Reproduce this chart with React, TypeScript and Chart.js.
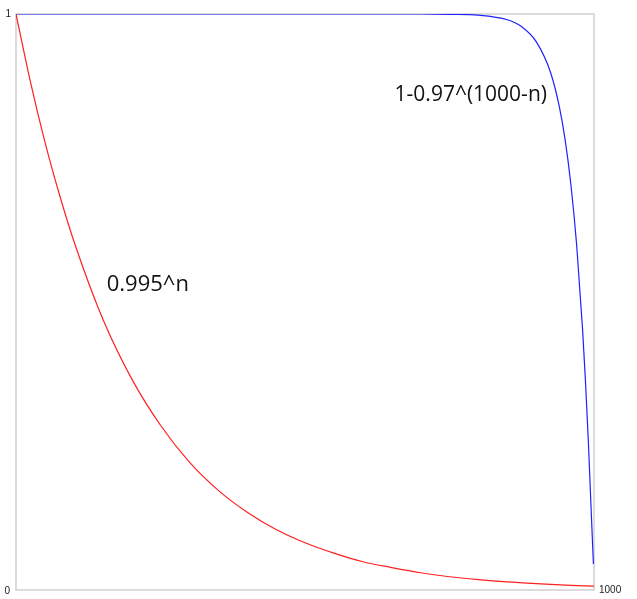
import React, { useEffect, useRef } from "react";
import { Chart, registerables } from "chart.js";

Chart.register(...registerables);

const redN = [0, 25, 50, 75, 100, 150, 200, 250, 300, 350, 400, 450, 500, 550, 600, 650, 700, 750, 800, 850, 900, 950, 1000];
const redValues = [1, 0.882, 0.778, 0.687, 0.606, 0.471, 0.367, 0.286, 0.222, 0.173, 0.135, 0.105, 0.082, 0.064, 0.049, 0.039, 0.030, 0.023, 0.018, 0.014, 0.011, 0.0085, 0.0067];

const blueN = [0, 200, 400, 600, 700, 750, 800, 850, 875, 900, 925, 940, 950, 960, 970, 980, 985, 990, 995, 999];
const blueValues = [1, 1, 1, 1, 1, 0.9995, 0.998, 0.99, 0.978, 0.952, 0.898, 0.839, 0.782, 0.704, 0.599, 0.456, 0.367, 0.263, 0.141, 0.045];

const xTickLabels = ["1000"];
const yTickLabels = ["0", "1"];

const annotations = [
  { text: "0.995^n", n: 157, v: 0.53, size: 22 },
  { text: "1-0.97^(1000-n)", n: 655, v: 0.86, size: 21 },
];

export default function App() {
  const ref = useRef<HTMLCanvasElement>(null);
  useEffect(() => {
    if (!ref.current) return;
    const overlay = {
      id: "overlay",
      beforeDatasetsDraw(chart: any) {
        const { ctx, chartArea: a } = chart;
        ctx.save();
        ctx.strokeStyle = "#d0d0d0";
        ctx.lineWidth = 1.5;
        ctx.strokeRect(a.left, a.top, a.right - a.left, a.bottom - a.top);
        ctx.restore();
      },
      afterDatasetsDraw(chart: any) {
        const { ctx, chartArea: a, scales } = chart;
        ctx.save();
        ctx.fillStyle = "#222";
        ctx.font = "10px 'Liberation Sans', sans-serif";
        ctx.textBaseline = "middle";
        ctx.textAlign = "right";
        ctx.fillText(yTickLabels[1], a.left - 5, scales.y.getPixelForValue(1));
        ctx.fillText(yTickLabels[0], a.left - 6, scales.y.getPixelForValue(0) + 1);
        ctx.textAlign = "left";
        ctx.fillText(xTickLabels[0], scales.x.getPixelForValue(1000) + 5, a.bottom);
        ctx.fillStyle = "#111";
        for (const an of annotations) {
          ctx.font = an.size + "px 'Open Sans', sans-serif";
          ctx.fillText(an.text, scales.x.getPixelForValue(an.n), scales.y.getPixelForValue(an.v));
        }
        ctx.restore();
      },
    };
    const chart = new Chart(ref.current, {
      type: "scatter",
      data: {
        datasets: [
          {
            data: redN.map((n, i) => ({ x: n, y: redValues[i] })),
            showLine: true,
            borderColor: "#ff2020",
            borderWidth: 1.2,
            pointRadius: 0,
            cubicInterpolationMode: "monotone",
          },
          {
            data: blueN.map((n, i) => ({ x: n, y: blueValues[i] })),
            showLine: true,
            borderColor: "#2020ff",
            borderWidth: 1.2,
            pointRadius: 0,
            cubicInterpolationMode: "monotone",
          },
        ],
      },
      options: {
        animation: false,
        responsive: false,
        layout: { padding: { left: 16, top: 14, right: 43, bottom: 9 } },
        plugins: { legend: { display: false }, tooltip: { enabled: false } },
        scales: {
          x: { type: "linear", min: 0, max: 1000, display: false },
          y: { type: "linear", min: 0, max: 1, display: false },
        },
      },
      plugins: [overlay],
    });
    return () => chart.destroy();
  }, []);
  return (
    <div style={{ position: "fixed", left: 0, top: 0, width: 637, height: 599, background: "#fff" }}>
      <canvas ref={ref} width={637} height={599} />
    </div>
  );
}
